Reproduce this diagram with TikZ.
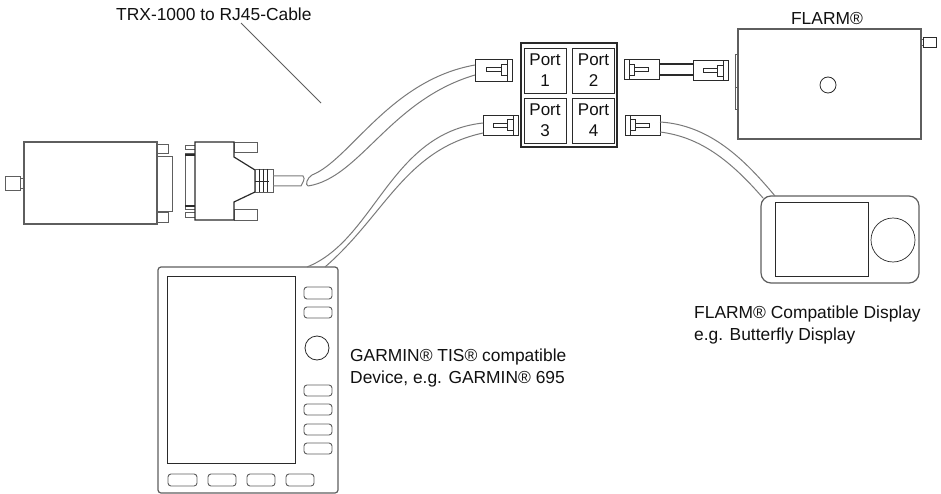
\documentclass[tikz,border=0pt]{standalone}
\usepackage{fontspec}
\usepackage{xcolor}
\usepackage{tikz}
\usetikzlibrary{positioning,calc}
\setmainfont{Liberation Sans}
\definecolor{LineDark}{HTML}{2A2A2A}
\definecolor{LineGray}{HTML}{5E5E5E}
\definecolor{CableGray}{HTML}{7A7A7A}
\definecolor{TextDark}{HTML}{111111}
\tikzset{
  devbox/.style={draw=LineGray, line width=1.2pt, fill=white, inner sep=0pt, outer sep=0pt, minimum width=#1},
  portbox/.style={draw=LineDark, line width=0.9pt, fill=white, inner sep=0pt, outer sep=0pt, minimum width=42pt, minimum height=45pt, align=center, font=\fontsize{17}{21}\selectfont, text=TextDark},
  plugbox/.style={draw=LineDark, line width=0.8pt, fill=white, inner sep=0pt, outer sep=0pt, minimum width=35pt, minimum height=20pt},
  softkey/.style={draw=LineGray, line width=0.9pt, rounded corners=3pt, fill=white},
  thinpart/.style={draw=LineGray, line width=0.9pt, fill=white},
  pinpart/.style={draw=LineDark, line width=0.7pt, fill=white},
  cableline/.style={draw=CableGray, line width=1pt},
  label/.style={anchor=base west, font=\fontsize{17.4}{22}\selectfont, text=TextDark, align=left, inner sep=0pt}
}

\begin{document}
\begin{tikzpicture}[x=1pt, y=-1pt]
  \useasboundingbox (0,0) rectangle (941,494);
  \fill[white] (0,0) rectangle (941,494);

  % labels
  \node[label] (cablelabel) at (116,21) {TRX-1000 to RJ45-Cable};
  \node[label, anchor=base] (flarmlabel) at (827,25) {FLARM®};
  \node[label] (garminlabel) at (350,361) {GARMIN® TIS® compatible};
  \node[label] (garminlabelb) at (350,383) {Device, e.g. GARMIN® 695};
  \node[label] (displaylabel) at (694,318) {FLARM® Compatible Display};
  \node[label] (displaylabelb) at (694,340) {e.g. Butterfly Display};
  \coordinate (leadstart) at (241,23);
  \coordinate (leadend) at (321,103);
  \draw[LineGray, line width=0.8pt] (leadstart) -- (leadend);

  % port box
  \draw[LineDark, line width=1.1pt, fill=white] (521,43) rectangle (617,147);
  \node[portbox] (port1) at (545,70.5) {Port\\1};
  \node[portbox] (port2) at (593.5,70.5) {Port\\2};
  \node[portbox] (port3) at (545,120.5) {Port\\3};
  \node[portbox] (port4) at (593.5,120.5) {Port\\4};

  % plugs on the left of the port box
  \node[plugbox, minimum width=37pt, minimum height=22pt] (plug1) at (493.5,70) {};
  \draw[pinpart] (507,59) rectangle (512,81);
  \draw[pinpart] (501,64) rectangle (507,75);
  \draw[pinpart] (486,67.5) rectangle (501,71.5);
  \node[plugbox] (plug3) at (500.5,125) {};
  \draw[pinpart] (513,115) rectangle (518,135);
  \draw[pinpart] (507,119.5) rectangle (513,130.5);
  \draw[pinpart] (493,123) rectangle (507,127);

  % plugs on the right of the port box
  \node[plugbox] (plug2) at (641.5,69.5) {};
  \draw[pinpart] (624,59.5) rectangle (629,79.5);
  \draw[pinpart] (629,64) rectangle (634,75);
  \draw[pinpart] (634,67.5) rectangle (648,71.5);
  \node[plugbox] (plug4) at (642.5,125) {};
  \draw[pinpart] (625,115) rectangle (630,135);
  \draw[pinpart] (630,119.5) rectangle (635,130.5);
  \draw[pinpart] (635,123) rectangle (649,127);
  \node[plugbox] (plugflarm) at (710.5,70.5) {};
  \draw[pinpart] (723,60.5) rectangle (728,80.5);
  \draw[pinpart] (717,65) rectangle (723,76);
  \draw[pinpart] (703,68.5) rectangle (717,72.5);

  % short link from port 2 to the FLARM
  \draw[LineDark, line width=1.2pt] ([yshift=5.5pt]plug2.east) -- ([yshift=6.5pt]plugflarm.west);
  \draw[LineDark, line width=1.2pt] ([yshift=-5.5pt]plug2.east) -- ([yshift=-4.5pt]plugflarm.west);

  % FLARM
  \draw[thinpart] (735,54) rectangle (738,87);
  \draw[thinpart] (735,87) rectangle (738,109);
  \draw[thinpart] (921,39) rectangle (923.5,45);
  \draw[pinpart] (923.5,37) rectangle (936,47);
  \node[devbox=183pt, minimum height=110pt] (flarm) at (829.5,84) {};
  \node[draw=LineDark, line width=0.8pt, circle, minimum size=16pt, inner sep=0pt] (flarmknob) at (828,85) {};

  % TRX box with its sub-D connector
  \draw[thinpart] (20,178) rectangle (24,188);
  \draw[thinpart] (5,176) rectangle (20,190);
  \draw[thinpart] (157,144) rectangle (168,153);
  \draw[thinpart] (157,212) rectangle (168,222);
  \draw[thinpart] (157,156) rectangle (172,211);
  \node[devbox=133pt, minimum height=82pt] (trx) at (90.5,183) {};

  \draw[thinpart] (185,145) rectangle (195,149);
  \draw[thinpart] (185,212) rectangle (195,217);
  \draw[thinpart] (185,153) rectangle (195,209);
  \draw[LineDark, line width=1.1pt] (185,155) -- (195,155) (185,206) -- (195,206);
  \draw[thinpart] (234,142) rectangle (257,152);
  \draw[thinpart] (234,209) rectangle (257,220);
  \draw[LineDark, line width=1.2pt, fill=white] (195,142) -- (234,142) -- (234,157) -- (255,170) -- (255,192) -- (234,202) -- (234,220) -- (195,220) -- cycle;
  \draw[LineGray, line width=0.9pt, fill=white] (255,169) rectangle (273,192);
  \draw[LineDark, line width=0.9pt] (259,169) -- (259,192) (263,169) -- (263,192) (267,169) -- (267,192) (255,181) -- (269,181);

  % TRX cable, broken once near the strain relief
  \coordinate (trxcablea) at (273,176);
  \coordinate (trxcableb) at (273,186);
  \coordinate (brkaleft) at (303,176);
  \coordinate (brkbleft) at (301,186);
  \coordinate (brkaright) at (312,175);
  \coordinate (brkbright) at (308,186);
  \draw[cableline] (trxcablea) -- (brkaleft) .. controls (306,179) and (302,183) .. (brkbleft) -- (trxcableb);
  \draw[cableline] (brkaright) .. controls (307,178) and (305,185) .. (brkbright);
  \draw[cableline] (brkaright) .. controls (350,160) and (390,80) .. ([yshift=5pt]plug1.west);
  \draw[cableline] (brkbright) .. controls (360,178) and (390,100) .. ([yshift=-5pt]plug1.west);

  % GARMIN
  \node[devbox=180pt, minimum height=226pt, rounded corners=3pt] (garmin) at (248,380) {};
  \draw[cableline] (garmin.north east) ++(-31,0) .. controls (375,240) and (390,133) .. ([yshift=2pt]plug3.west);
  \draw[cableline] (garmin.north east) ++(-13,0) .. controls (385,215) and (405,150) .. ([yshift=-8pt]plug3.west);
  \draw[LineDark, line width=0.9pt] (167,276) rectangle (295,463);
  \draw[softkey] (304,287) rectangle (332,299);
  \draw[softkey] (304,307) rectangle (332,318);
  \draw[softkey] (304,385) rectangle (332,396);
  \draw[softkey] (304,404) rectangle (332,415);
  \draw[softkey] (304,424) rectangle (332,435);
  \draw[softkey] (304,443) rectangle (332,454);
  \draw[softkey] (168,474) rectangle (197,486);
  \draw[softkey] (208,474) rectangle (236,486);
  \draw[softkey] (247,474) rectangle (275,486);
  \draw[softkey] (286,474) rectangle (314,486);
  \node[draw=LineDark, line width=0.8pt, circle, minimum size=24pt, inner sep=0pt] (garminknob) at (317,348) {};

  % Butterfly display
  \node[devbox=158pt, minimum height=87pt, rounded corners=10pt] (display) at (840,239.5) {};
  \draw[LineDark, line width=0.9pt] (775,202) rectangle (868,276);
  \node[draw=LineDark, line width=0.7pt, circle, minimum size=44pt, inner sep=0pt] (displayknob) at (893,240) {};
  \coordinate (dispa) at (775,196);
  \coordinate (dispb) at (763,198);
  \draw[cableline] ([yshift=3pt]plug4.east) .. controls (710,125) and (745,160) .. (dispa);
  \draw[cableline] ([yshift=-7pt]plug4.east) .. controls (700,137) and (730,160) .. (dispb);
\end{tikzpicture}
\end{document}
